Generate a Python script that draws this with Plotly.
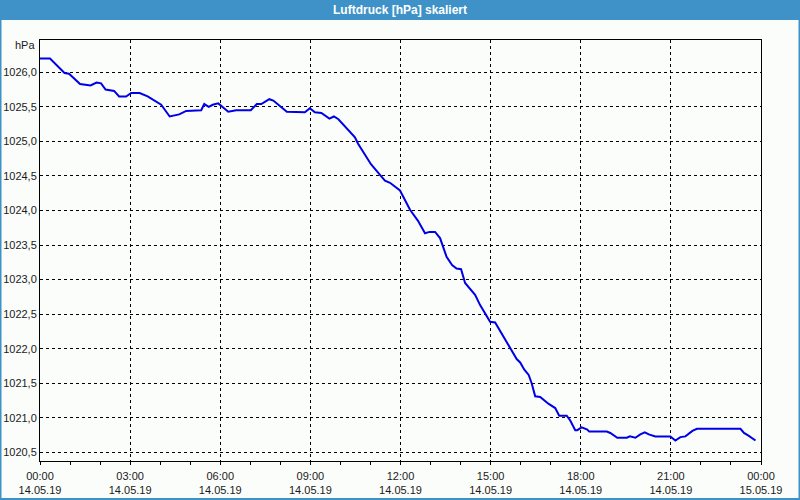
import plotly.graph_objects as go

# ---- data ----
DAY = "2019-05-14"
times = ["00:00","00:20","00:49","00:58","01:20","01:41","01:53","02:02","02:11","02:28",
         "02:38","02:52","03:02","03:19","03:35","04:02","04:19","04:38","04:52","05:22",
         "05:28","05:37","05:45","05:56","06:16","06:32","07:01","07:13","07:22","07:38",
         "07:46","08:02","08:13","08:49","08:59","09:09","09:22","09:38","09:47","09:56",
         "10:13","10:29","10:35","11:01","11:22","11:29","11:39","11:59","12:19","12:35",
         "12:49","12:58","13:09","13:19","13:32","13:43","13:52","14:01","14:09","14:29",
         "14:39","14:59","15:09","15:17","15:29","15:46","15:52","15:59","16:07","16:16",
         "16:22","16:29","16:39","16:56","17:09","17:17","17:32","17:39","17:49","17:53",
         "18:02","18:13","18:17","18:52","18:59","19:13","19:32","19:38","19:49","19:59",
         "20:08","20:16","20:29","20:59","21:09","21:19","21:29","21:43","21:52","23:19",
         "23:26","23:35","23:49"]
pressure = [1026.20,1026.20,1025.99,1025.98,1025.83,1025.81,1025.85,1025.84,1025.75,1025.73,
            1025.65,1025.65,1025.70,1025.70,1025.65,1025.53,1025.36,1025.39,1025.44,1025.45,
            1025.54,1025.50,1025.53,1025.55,1025.43,1025.45,1025.45,1025.54,1025.54,1025.61,
            1025.59,1025.50,1025.43,1025.42,1025.48,1025.42,1025.41,1025.33,1025.36,1025.32,
            1025.19,1025.06,1024.97,1024.67,1024.49,1024.43,1024.40,1024.29,1024.01,1023.85,
            1023.67,1023.69,1023.69,1023.60,1023.33,1023.21,1023.16,1023.15,1022.95,1022.78,
            1022.63,1022.39,1022.38,1022.28,1022.13,1021.91,1021.85,1021.80,1021.70,1021.62,
            1021.50,1021.31,1021.30,1021.20,1021.14,1021.03,1021.03,1020.96,1020.82,1020.82,
            1020.86,1020.83,1020.80,1020.80,1020.78,1020.71,1020.71,1020.73,1020.71,1020.76,
            1020.79,1020.76,1020.73,1020.73,1020.67,1020.72,1020.73,1020.81,1020.84,1020.84,
            1020.78,1020.74,1020.67]

tick_times = ["2019-05-14 00:00","2019-05-14 03:00","2019-05-14 06:00","2019-05-14 09:00",
              "2019-05-14 12:00","2019-05-14 15:00","2019-05-14 18:00","2019-05-14 21:00",
              "2019-05-15 00:00"]
tick_hours = ["00:00","03:00","06:00","09:00","12:00","15:00","18:00","21:00","00:00"]
tick_dates = ["14.05.19","14.05.19","14.05.19","14.05.19","14.05.19","14.05.19",
              "14.05.19","14.05.19","15.05.19"]
title_text = "Luftdruck [hPa] skaliert"
unit_text = "hPa"

x = [f"{DAY} {t}" for t in times]
x_range = ["2019-05-14 00:00", "2019-05-15 00:00"]

# ---- layout geometry ----
W, H = 800, 500
L, R, T, B = 40, 39, 40, 39
pw, ph = W - L - R, H - T - B

def px(xp):
    return (xp - L) / pw

def py(yp):
    return (H - B - yp) / ph

FONT = "Liberation Sans"
TXT = "#1a1a1a"
BLUE_BAR = "#3e92c7"
CLEAR = "rgba(0,0,0,0)"

fig = go.Figure()
fig.add_trace(go.Scatter(x=x, y=pressure, mode="lines",
                         line=dict(color="#0000e6", width=2),
                         hoverinfo="skip", showlegend=False))
# invisible helper traces so the extra x axes (label rows, hourly ticks) are drawn
for ax in ("x2", "x3", "x4"):
    fig.add_trace(go.Scatter(x=x_range, y=[None, None], xaxis=ax, mode="lines",
                             hoverinfo="skip", showlegend=False))

label_axis = dict(type="date", automargin=False, overlaying="x", anchor="y", side="bottom",
                  range=x_range, tickvals=tick_times,
                  showgrid=False, showline=False, zeroline=False, fixedrange=True,
                  ticks="outside", tickcolor=CLEAR,
                  tickfont=dict(family=FONT, size=11, color=TXT))

fig.update_layout(
    width=W, height=H,
    margin=dict(l=L, r=R, t=T, b=B, pad=0, autoexpand=False),
    paper_bgcolor="#fbfdfb", plot_bgcolor="#fbfdfb",
    separators=",.",
    font=dict(family=FONT, size=11, color=TXT),
    showlegend=False,
    xaxis=dict(
        type="date", automargin=False,
        range=x_range, tickvals=tick_times, showticklabels=False,
        showgrid=True, gridcolor="black", gridwidth=1, griddash="3px,3px",
        showline=True, linecolor="black", linewidth=1, mirror=True,
        ticks="", zeroline=False, fixedrange=True,
    ),
    xaxis2=dict(label_axis, ticktext=tick_dates, ticklen=19),
    xaxis4=dict(label_axis, ticktext=tick_hours, ticklen=5),
    xaxis3=dict(
        type="date", automargin=False, overlaying="x", anchor="y", side="bottom",
        range=x_range, tick0="2019-05-14 00:00", dtick=3600000,
        showticklabels=False,
        showgrid=False, showline=False, zeroline=False, fixedrange=True,
        ticks="outside", ticklen=3, tickcolor="black",
    ),
    yaxis=dict(
        automargin=False,
        range=[1020.374, 1026.467],
        tick0=1020.5, dtick=0.5, tickformat=".1f",
        showgrid=True, gridcolor="black", gridwidth=1, griddash="3px,3px",
        showline=True, linecolor="black", linewidth=1, mirror=True,
        ticks="", zeroline=False, fixedrange=True,
        tickfont=dict(family=FONT, size=11, color=TXT),
    ),
    shapes=[
        # title bar
        dict(type="rect", xref="paper", yref="paper",
             x0=px(0), x1=px(W), y0=py(20), y1=py(0),
             fillcolor=BLUE_BAR, line=dict(width=0), layer="below"),
        # outer frame
        dict(type="rect", xref="paper", yref="paper",
             x0=px(0.5), x1=px(W - 0.5), y0=py(H - 1), y1=py(0.5),
             fillcolor=CLEAR, line=dict(color=BLUE_BAR, width=2)),
    ],
    annotations=[
        dict(text=f"<b>{title_text}</b>", xref="paper", yref="paper",
             x=px(W / 2), y=py(10), xanchor="center", yanchor="middle",
             showarrow=False, font=dict(family=FONT, size=12, color="white")),
        dict(text=unit_text, xref="paper", yref="paper",
             x=px(37), y=py(45), xanchor="right", yanchor="middle",
             showarrow=False, font=dict(family=FONT, size=11, color=TXT)),
    ],
)

fig.write_html("out.html")
